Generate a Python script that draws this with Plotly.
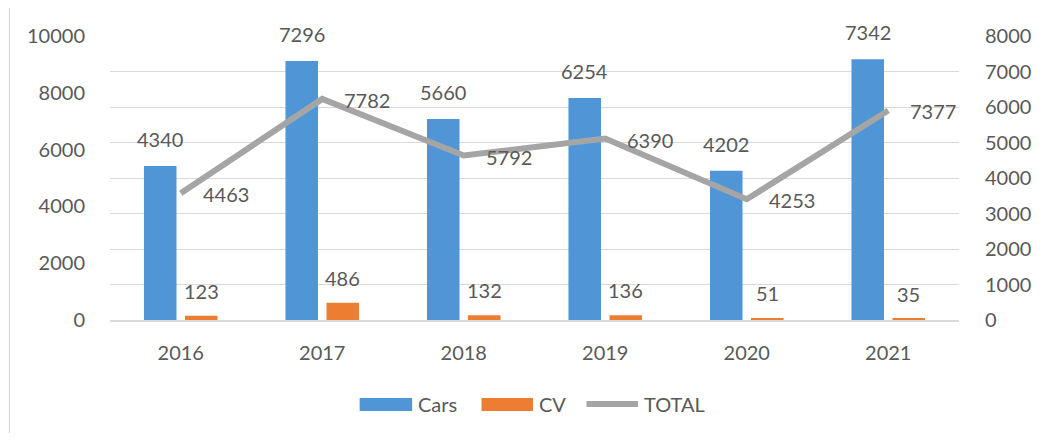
import plotly.graph_objects as go

years = ["2016", "2017", "2018", "2019", "2020", "2021"]
cars = [4340, 7296, 5660, 6254, 4202, 7342]
cv = [123, 486, 132, 136, 51, 35]
total = [4463, 7782, 5792, 6390, 4253, 7377]

# page has an 8px body margin: figure coordinates = reference pixels - 8
OFF = 8
W, H = 1051 - 2 * OFF, 441 - 2 * OFF
PL, PR, PT, PB = 110, 967, 36, 320          # plot area in reference pixels
L, R = PL - OFF, W - (PR - OFF)
T, B = PT - OFF, H - (PB - OFF)
PW, PH = PR - PL, PB - PT


def px2x(px):
    return (px - PL) / PW


def px2y(py):
    return (PB - py) / PH


TXT = "#595959"
FONT = "Lato"
FS = 20
BLUE = "#5096D6"
ORANGE = "#ED7D31"
GREY = "#A5A5A5"

BW = 0.23
OFF_CARS = -0.26
OFF_CV = 0.03

fig = go.Figure()
fig.add_trace(go.Bar(x=years, y=cars, name="Cars", yaxis="y", width=BW, offset=OFF_CARS,
                     marker=dict(color=BLUE, line=dict(width=0)), showlegend=False))
fig.add_trace(go.Bar(x=years, y=cv, name="CV", yaxis="y", width=BW, offset=OFF_CV,
                     marker=dict(color=ORANGE, line=dict(width=0)), showlegend=False))
fig.add_trace(go.Scatter(x=years, y=total, name="TOTAL", yaxis="y2", mode="lines",
                         line=dict(color=GREY, width=6), showlegend=False))

ann = []
for i, v in enumerate(cars):
    ann.append(dict(x=i + OFF_CARS + BW / 2, y=v, xref="x", yref="y", text=str(v), showarrow=False,
                    yshift=27, font=dict(size=FS, color=TXT, family=FONT)))
for i, v in enumerate(cv):
    ann.append(dict(x=i + OFF_CV + BW / 2, y=v, xref="x", yref="y", text=str(v), showarrow=False,
                    yshift=25, font=dict(size=FS, color=TXT, family=FONT)))
for i, v in enumerate(total):
    ann.append(dict(x=i, y=v, xref="x", yref="y2", text=str(v), showarrow=False,
                    xanchor="left", xshift=20, yshift=-1, font=dict(size=FS, color=TXT, family=FONT)))

# custom legend
shapes = []
shapes.append(dict(type="rect", xref="paper", yref="paper", x0=px2x(362), x1=px2x(415),
                   y0=px2y(411), y1=px2y(398), fillcolor=BLUE, line=dict(width=0)))
shapes.append(dict(type="rect", xref="paper", yref="paper", x0=px2x(485), x1=px2x(537),
                   y0=px2y(411), y1=px2y(398), fillcolor=ORANGE, line=dict(width=0)))
shapes.append(dict(type="line", xref="paper", yref="paper", x0=px2x(591), x1=px2x(643),
                   y0=px2y(404), y1=px2y(404), line=dict(color=GREY, width=6)))
for label, px in [("Cars", 419), ("CV", 541), ("TOTAL", 647)]:
    ann.append(dict(x=px2x(px), y=px2y(404), xref="paper", yref="paper", text=label,
                    showarrow=False, xanchor="left", yanchor="middle",
                    font=dict(size=FS, color=TXT, family=FONT)))

# chart border (top & left visible)
shapes.append(dict(type="line", xref="paper", yref="paper", x0=px2x(8.5), x1=px2x(1060),
                   y0=px2y(7.5), y1=px2y(7.5), line=dict(color="#D0D0D0", width=1)))
shapes.append(dict(type="line", xref="paper", yref="paper", x0=px2x(8.5), x1=px2x(8.5),
                   y0=px2y(7.5), y1=px2y(450), line=dict(color="#D0D0D0", width=1)))

fig.update_layout(
    width=W, height=H,
    margin=dict(l=L, r=R, t=T, b=B),
    paper_bgcolor="white", plot_bgcolor="white",
    font=dict(family=FONT, size=FS, color=TXT),
    barmode="overlay",
    showlegend=False,
    annotations=ann,
    shapes=shapes,
    xaxis=dict(type="category", range=[-0.5, 5.5], autorange=False, showgrid=False,
               showline=True, linecolor="#D9D9D9",
               linewidth=2, ticks="", ticklabelstandoff=14,
               tickfont=dict(size=FS, color=TXT, family=FONT), fixedrange=True),
    yaxis=dict(side="right", range=[0, 8000], autorange=False, dtick=1000, tickformat="d",
               showgrid=True, gridcolor="#D9D9D9",
               gridwidth=1, zeroline=False, showline=False, ticks="", ticklabelstandoff=25,
               tickfont=dict(size=FS, color=TXT, family=FONT)),
    yaxis2=dict(side="left", overlaying="y", range=[0, 10000], autorange=False, dtick=2000,
                tickformat="d", showgrid=False,
                zeroline=False, showline=False, ticks="", ticklabelstandoff=24,
                tickfont=dict(size=FS, color=TXT, family=FONT)),
)

fig.write_html("out.html")
